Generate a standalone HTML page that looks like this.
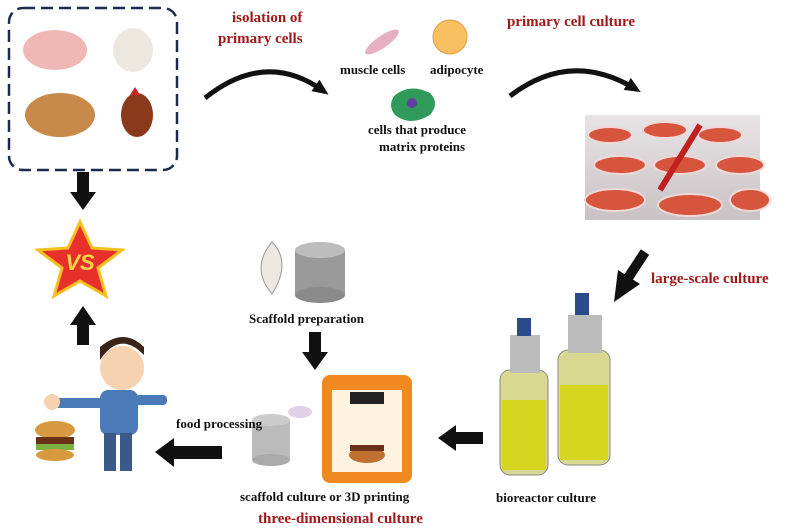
<!DOCTYPE html>
<html><head><style>
body{margin:0;background:#fff;}
.c{position:relative;width:800px;height:530px;overflow:hidden;font-family:"Liberation Serif",serif;}
.t{position:absolute;font-weight:bold;color:#111;font-size:13px;white-space:nowrap;}
.r{color:#a01818;font-size:15px;}
</style></head><body><div class="c">
<svg width="800" height="530" style="position:absolute;left:0;top:0">
<defs>
<marker id="ah" markerUnits="userSpaceOnUse" markerWidth="16" markerHeight="16" refX="8" refY="8" orient="auto"><path d="M0,1 L16,8 L0,15z" fill="#111"/></marker>
<linearGradient id="pd" x1="0" y1="0" x2="0" y2="1"><stop offset="0" stop-color="#e8e4e6"/><stop offset="1" stop-color="#c9c2c5"/></linearGradient>
</defs>
<rect x="9" y="8" width="168" height="162" rx="14" fill="none" stroke="#1d2b4a" stroke-width="2.5" stroke-dasharray="12,6"/>
<ellipse cx="55" cy="50" rx="32" ry="20" fill="#f0b8b4"/>
<ellipse cx="133" cy="50" rx="20" ry="22" fill="#ece8e0"/>
<ellipse cx="60" cy="115" rx="35" ry="22" fill="#c88a4a"/>
<ellipse cx="137" cy="115" rx="16" ry="22" fill="#8a3a1a"/>
<path d="M130 95 l5 -8 5 8z" fill="#d02020"/>
<rect x="77" y="172" width="12" height="22" fill="#111"/><path d="M70 192 L96 192 L83 210z" fill="#111"/>
<path d="M70 325 L96 325 L83 306z" fill="#111"/><rect x="77" y="323" width="12" height="22" fill="#111"/>
<polygon points="80,222 92,248 122,250 98,268 106,296 80,281 54,296 62,268 38,250 68,248" fill="#e8302a" stroke="#f5c020" stroke-width="3"/>
<text x="80" y="270" font-family="Liberation Sans" font-weight="bold" font-size="22" fill="#f7d44a" text-anchor="middle" font-style="italic">VS</text>
<circle cx="122" cy="368" r="22" fill="#f6d2b0"/>
<path d="M100 360 q20 -30 44 -5 l0 -8 q-20 -20 -44 0z" fill="#3a2418"/>
<rect x="100" y="390" width="38" height="45" rx="8" fill="#4a7ab8"/>
<rect x="135" y="395" width="32" height="10" rx="4" fill="#4a7ab8"/>
<rect x="55" y="398" width="50" height="10" rx="4" fill="#4a7ab8"/>
<circle cx="52" cy="402" r="8" fill="#f6d2b0"/>
<rect x="104" y="433" width="12" height="38" fill="#3a5a88"/><rect x="120" y="433" width="12" height="38" fill="#3a5a88"/>
<ellipse cx="55" cy="430" rx="20" ry="9" fill="#d89a40"/><rect x="36" y="437" width="38" height="7" fill="#6a3018"/><rect x="36" y="444" width="38" height="6" fill="#7ab040"/><ellipse cx="55" cy="455" rx="19" ry="6" fill="#d89a40"/>
<path d="M205 98 Q265 50 322 90" fill="none" stroke="#111" stroke-width="5" marker-end="url(#ah)"/>
<path d="M510 96 Q570 50 634 88" fill="none" stroke="#111" stroke-width="5" marker-end="url(#ah)"/>
<ellipse cx="382" cy="42" rx="20" ry="6" fill="#e6b0c0" transform="rotate(-35 382 42)"/>
<circle cx="450" cy="37" r="17" fill="#f8c060" stroke="#e09a40"/>
<path d="M395 95 q15 -12 35 -2 q10 10 0 22 q-20 12 -35 0 q-8 -10 0 -20z" fill="#2f9a5a"/>
<circle cx="412" cy="103" r="5" fill="#6040a0"/>
<rect x="585" y="115" width="175" height="105" fill="url(#pd)"/>
<g fill="#d7553d" stroke="#f0d8d8" stroke-width="2">
<ellipse cx="610" cy="135" rx="22" ry="8"/><ellipse cx="665" cy="130" rx="22" ry="8"/><ellipse cx="720" cy="135" rx="22" ry="8"/>
<ellipse cx="620" cy="165" rx="26" ry="9"/><ellipse cx="680" cy="165" rx="26" ry="9"/><ellipse cx="740" cy="165" rx="24" ry="9"/>
<ellipse cx="615" cy="200" rx="30" ry="11"/><ellipse cx="690" cy="205" rx="32" ry="11"/><ellipse cx="750" cy="200" rx="20" ry="11"/>
</g>
<line x1="660" y1="190" x2="700" y2="125" stroke="#c02020" stroke-width="6"/>
<path d="M645 252 L628 278" stroke="#111" stroke-width="10"/><path d="M614 302 L618 270 L640 284z" fill="#111"/>
<rect x="500" y="370" width="48" height="105" rx="10" fill="#d8d890" stroke="#888"/>
<rect x="502" y="400" width="44" height="70" fill="#d6d620"/>
<rect x="510" y="335" width="30" height="38" fill="#bbb"/><rect x="517" y="318" width="14" height="18" fill="#2a4a8a"/>
<rect x="558" y="350" width="52" height="115" rx="10" fill="#d8d890" stroke="#888"/>
<rect x="560" y="385" width="48" height="75" fill="#d6d620"/>
<rect x="568" y="315" width="34" height="38" fill="#bbb"/><rect x="575" y="293" width="14" height="22" fill="#2a4a8a"/>
<rect x="455" y="432" width="28" height="12" fill="#111"/><path d="M456 425 L456 451 L438 438z" fill="#111"/>
<rect x="172" y="446" width="50" height="13" fill="#111"/><path d="M174 438 L174 467 L155 452z" fill="#111"/>
<rect x="322" y="375" width="90" height="108" rx="8" fill="#f08a20"/>
<rect x="332" y="390" width="70" height="82" fill="#fff3e0"/>
<rect x="350" y="392" width="34" height="12" fill="#222"/>
<ellipse cx="367" cy="455" rx="18" ry="8" fill="#c07030"/><rect x="350" y="445" width="34" height="6" fill="#6a3018"/>
<path d="M272 242 q20 20 0 52 q-22 -26 0 -52z" fill="#ece8e0" stroke="#999"/>
<rect x="295" y="250" width="50" height="45" fill="#9a9a9a"/><ellipse cx="320" cy="250" rx="25" ry="8" fill="#bdbdbd"/><ellipse cx="320" cy="295" rx="25" ry="8" fill="#8a8a8a"/>
<rect x="309" y="332" width="12" height="22" fill="#111"/><path d="M302 352 L328 352 L315 370z" fill="#111"/>
<rect x="252" y="420" width="38" height="40" fill="#bbb"/><ellipse cx="271" cy="420" rx="19" ry="6" fill="#ccc"/><ellipse cx="271" cy="460" rx="19" ry="6" fill="#aaa"/>
<ellipse cx="300" cy="412" rx="12" ry="6" fill="#e0d0e8"/>
</svg>
<div class="t r" style="left:232px;top:10px">isolation of</div>
<div class="t r" style="left:218px;top:31px">primary cells</div>
<div class="t r" style="left:507px;top:14px">primary cell culture</div>
<div class="t" style="left:340px;top:62px">muscle cells</div>
<div class="t" style="left:430px;top:62px">adipocyte</div>
<div class="t" style="left:368px;top:122px">cells that produce</div>
<div class="t" style="left:379px;top:139px">matrix proteins</div>
<div class="t r" style="left:651px;top:271px">large-scale culture</div>
<div class="t" style="left:249px;top:311px">Scaffold preparation</div>
<div class="t" style="left:176px;top:416px">food processing</div>
<div class="t" style="left:496px;top:490px">bioreactor culture</div>
<div class="t" style="left:240px;top:489px">scaffold culture or 3D printing</div>
<div class="t r" style="left:258px;top:511px">three-dimensional culture</div>
</div></body></html>
